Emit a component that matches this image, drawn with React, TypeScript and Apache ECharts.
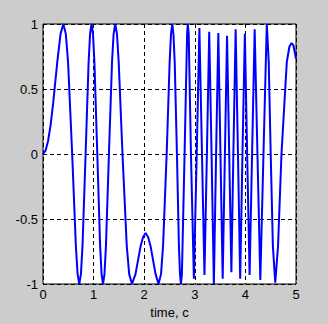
import React, { useEffect, useRef } from "react";
import * as echarts from "echarts";

// time (x) and signal (y)
const timeValues: number[] = [
  0, 0.05, 0.1, 0.15, 0.2, 0.282, 0.3467, 0.402, 0.4508, 0.4955,
  0.5765, 0.6495, 0.6838, 0.717, 0.7494, 0.781, 0.842, 0.9015, 0.9304, 0.959,
  0.9878, 1.016, 1.073, 1.129, 1.1577, 1.186, 1.2149, 1.244, 1.303, 1.364,
  1.3956, 1.428, 1.4618, 1.496, 1.571, 1.655, 1.7032, 1.759, 1.828, 1.93,
  1.98, 2.029, 2.08, 2.125, 2.2247, 2.283, 2.3323, 2.373, 2.444, 2.503,
  2.5297, 2.555, 2.5777, 2.603, 2.647, 2.686, 2.7075, 2.726, 2.745, 2.798,
  2.8478, 2.862, 2.8795, 2.924, 2.982, 3.038, 3.091, 3.142, 3.191, 3.239,
  3.285, 3.331, 3.377, 3.421, 3.465, 3.507, 3.551, 3.595, 3.637, 3.68,
  3.723, 3.762, 3.807, 3.853, 3.897, 3.942, 3.989, 4.035, 4.083, 4.132,
  4.183, 4.238, 4.295, 4.357, 4.423, 4.461, 4.5, 4.543, 4.59, 4.645,
  4.713, 4.818, 4.87, 4.913, 4.95, 5,
];
const signalValues: number[] = [
  0, 0.025, 0.1, 0.222, 0.387, 0.707, 0.924, 1, 0.924, 0.707,
  0, -0.707, -0.924, -1, -0.924, -0.707, 0, 0.707, 0.924, 1,
  0.924, 0.707, 0, -0.707, -0.924, -1, -0.924, -0.707, 0, 0.707,
  0.924, 1, 0.924, 0.707, 0, -0.707, -0.924, -1, -0.924, -0.707,
  -0.637, -0.608, -0.642, -0.707, -0.924, -1, -0.924, -0.707, 0, 0.707,
  0.924, 1, 0.924, 0.707, 0, -0.707, -0.924, -1, -0.924, 0,
  0.924, 1, 0.924, 0, -0.96, 0, 0.97, 0, -0.93, 0,
  0.94, 0, -1, 0, 0.93, 0, -0.96, 0, 0.91, 0,
  -0.91, 0, 0.96, 0, -0.96, 0, 0.925, 0, -0.93, 0,
  0.96, 0, -0.97, 0, 1, 0.707, 0, -0.707, -0.99, -0.707,
  0, 0.707, 0.827, 0.853, 0.835, 0.733,
];
const xTicks = { min: 0, max: 5, interval: 1 };
const yTicks = { min: -1, max: 1, interval: 0.5 };
const xAxisName = "time, c";

export default function App() {
  const ref = useRef<HTMLDivElement>(null);
  useEffect(() => {
    document.body.style.margin = "0";
    document.body.style.background = "#cccccc";
    if (!ref.current) return;
    const chart = echarts.init(ref.current, undefined, { renderer: "svg" });
    const data = timeValues.map((t, i) => [t, signalValues[i]]);
    const font = "'Liberation Sans', Arial, sans-serif";
    const gridLine = { show: true, lineStyle: { color: "#000", width: 1, type: [4, 3] as number[] } };
    chart.setOption({
      animation: false,
      backgroundColor: "#cccccc",
      grid: {
        left: 43, top: 24, right: 32, bottom: 37,
        show: true, backgroundColor: "#ffffff", borderColor: "#000", borderWidth: 1,
      },
      xAxis: {
        type: "value",
        min: xTicks.min, max: xTicks.max, interval: xTicks.interval,
        name: xAxisName, nameLocation: "middle", nameGap: 22,
        nameTextStyle: { color: "#000", fontFamily: font, fontSize: 13 },
        axisLine: { show: false },
        axisTick: { show: true, inside: true, length: 4, lineStyle: { color: "#000" } },
        axisLabel: { color: "#000", fontFamily: font, fontSize: 13, margin: 4 },
        splitLine: gridLine,
      },
      yAxis: {
        type: "value",
        min: yTicks.min, max: yTicks.max, interval: yTicks.interval,
        axisLine: { show: false },
        axisTick: { show: true, inside: true, length: 4, lineStyle: { color: "#000" } },
        axisLabel: { color: "#000", fontFamily: font, fontSize: 13, margin: 5 },
        splitLine: gridLine,
      },
      series: [
        {
          type: "line",
          data,
          showSymbol: false,
          smooth: false,
          clip: true,
          lineStyle: { color: "#0000ff", width: 2 },
        },
      ],
    });
    return () => chart.dispose();
  }, []);
  return <div ref={ref} style={{ width: 328, height: 324, background: "#cccccc" }} />;
}
